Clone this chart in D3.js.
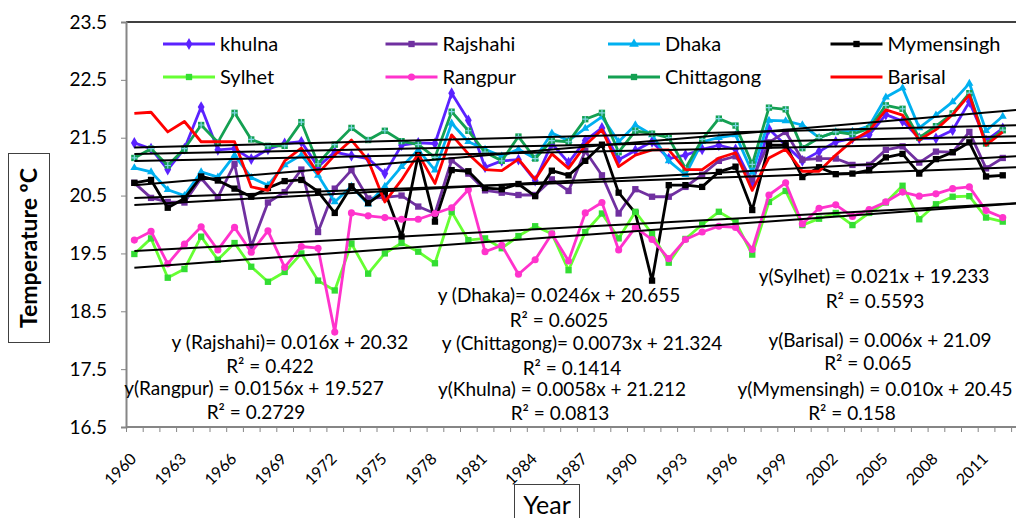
<!DOCTYPE html>
<html>
<head>
<meta charset="utf-8">
<script src="https://cdn.jsdelivr.net/npm/d3@7"></script>
<style>
  body { margin: 0; background: #fff; }
  svg { display: block; font-family: Lato, "Open Sans", sans-serif; }
</style>
</head>
<body>
<svg width="1016" height="518"></svg>
<script>
// yearly mean temperature (ºC), 1960-2012
var years = d3.range(1960, 2013);
var tickYears = d3.range(1960, 2013, 3);
var yTicks = [16.5, 17.5, 18.5, 19.5, 20.5, 21.5, 22.5, 23.5];

var khulna = [21.41,21.31,20.95,21.31,22.03,21.29,21.31,21.13,21.3,21.4,21.43,21.0,21.25,21.19,21.14,20.88,21.37,21.41,21.4,22.27,21.8,20.99,21.1,21.12,20.76,21.4,21.07,21.45,21.67,21.12,21.28,21.43,21.14,21.2,21.3,21.37,21.3,20.72,21.65,21.37,21.1,21.26,21.43,21.49,21.55,21.9,21.79,21.49,21.49,21.63,22.12,21.45,21.66];
var rajshahi = [20.72,20.46,20.39,20.38,20.8,20.47,21.05,19.62,20.38,20.56,20.95,19.87,20.62,20.94,20.45,20.47,20.5,20.31,20.19,21.11,20.88,20.59,20.55,20.51,20.51,20.78,20.58,21.27,20.85,20.19,20.61,20.48,20.48,20.65,20.86,21.1,21.18,20.78,21.42,21.6,21.12,21.14,21.14,21.03,21.03,21.29,21.35,21.07,21.26,21.25,21.6,20.97,21.15];
var dhaka = [20.98,20.91,20.6,20.5,20.91,20.82,21.2,20.81,20.68,21.03,21.2,20.85,20.39,20.66,20.35,20.66,21.0,21.29,20.94,21.75,21.43,21.3,21.18,21.3,21.14,21.58,21.45,21.66,21.86,21.43,21.72,21.55,21.1,20.86,21.43,21.5,21.55,20.9,21.8,21.79,21.72,21.5,21.6,21.61,21.7,22.2,22.36,21.67,21.89,22.12,22.44,21.62,21.87];
var mymensingh = [20.72,20.77,20.29,20.45,20.83,20.76,20.62,20.48,20.63,20.75,20.77,20.57,20.2,20.66,20.37,20.57,19.79,21.2,20.05,20.94,20.92,20.63,20.61,20.7,20.49,20.93,20.85,21.1,21.38,20.55,20.2,19.03,20.68,20.68,20.65,20.91,21.0,20.25,21.37,21.37,20.82,20.99,20.87,20.88,20.94,21.16,21.22,20.88,21.13,21.25,21.42,20.83,20.85];
var sylhet = [19.49,19.76,19.08,19.23,19.79,19.39,19.68,19.27,19.01,19.18,19.5,19.03,18.86,19.67,19.15,19.5,19.68,19.53,19.33,20.22,19.73,19.76,19.59,19.8,19.97,19.84,19.21,19.87,20.19,19.76,20.22,19.84,19.34,19.75,20.0,20.22,20.05,19.48,20.39,20.58,19.99,20.1,20.2,19.99,20.2,20.38,20.67,20.09,20.35,20.48,20.49,20.12,20.05];
var rangpur = [19.73,19.88,19.32,19.66,19.96,19.56,19.95,19.52,19.89,19.26,19.62,19.59,18.14,20.2,20.15,20.12,20.09,20.09,20.19,20.29,20.6,19.53,19.64,19.14,19.39,19.84,19.37,20.2,20.38,19.56,19.95,19.74,19.41,19.74,19.87,19.97,19.95,19.57,20.51,20.72,20.01,20.28,20.34,20.14,20.26,20.39,20.56,20.49,20.53,20.62,20.65,20.24,20.12];
var chittagong = [21.15,21.31,21.02,21.31,21.72,21.42,21.93,21.47,21.36,21.36,21.77,21.05,21.38,21.67,21.46,21.62,21.44,21.38,21.16,21.95,21.62,21.25,21.1,21.52,21.14,21.45,21.43,21.82,21.93,21.25,21.62,21.57,21.5,20.97,21.47,21.83,21.71,21.04,22.02,21.99,21.32,21.5,21.6,21.56,21.66,22.06,22.0,21.5,21.7,21.92,22.27,21.4,21.63];
var barisal = [21.92,21.94,21.6,21.78,21.43,21.43,21.43,20.65,20.59,21.1,21.32,20.88,21.2,21.46,21.11,20.39,20.77,21.22,20.71,21.55,21.22,20.95,20.93,21.13,20.78,21.22,20.97,21.37,21.64,21.0,21.2,21.29,21.29,20.95,20.95,21.15,21.24,20.59,21.15,21.3,20.92,20.92,21.2,21.45,21.62,21.98,21.89,21.46,21.64,21.9,22.24,21.37,21.6];

var names = ["khulna", "Rajshahi", "Dhaka", "Mymensingh", "Sylhet", "Rangpur", "Chittagong", "Barisal"];
var values = [khulna, rajshahi, dhaka, mymensingh, sylhet, rangpur, chittagong, barisal];
var colors = ["#5b22ff", "#7030a0", "#00b0f0", "#000000", "#66ff33", "#ff33cc", "#14a052", "#ff0000"];
var markerFill = ["#5b22ff", "#7030a0", "#00b0f0", "#000000", "#33dd33", "#ff33cc", "#14a052", "none"];
var shapes = [d3.symbolDiamond, d3.symbolSquare, d3.symbolTriangle, d3.symbolSquare, d3.symbolSquare, d3.symbolCircle, d3.symbolSquare, null];

// trend lines y = slope * x + intercept (x = 1 for 1960), as printed on the chart
var slopes = [0.0058, 0.016, 0.0246, 0.010, 0.021, 0.0156, 0.0073, 0.006];
var intercepts = [21.212, 20.32, 20.655, 20.45, 19.233, 19.527, 21.324, 21.09];
// equation, R², x of equation, x of R², baseline of equation, baseline of R²
var eqTexts = [
  ["y (Dhaka)= 0.0246x + 20.655", "R\u00b2 = 0.6025", 559, 559, 302, 327],
  ["y(Sylhet) = 0.021x + 19.233", "R\u00b2 = 0.5593", 874, 875, 283, 308],
  ["y (Rajshahi)= 0.016x + 20.32", "R\u00b2 = 0.422", 290, 270, 349, 373],
  ["y (Chittagong)= 0.0073x + 21.324", "R\u00b2 = 0.1414", 582, 572, 350, 375],
  ["y(Barisal) = 0.006x + 21.09", "R\u00b2 = 0.065", 880, 868, 347, 370],
  ["y(Rangpur) = 0.0156x + 19.527", "R\u00b2 = 0.2729", 254, 256, 395, 419],
  ["y(Khulna) = 0.0058x + 21.212", "R\u00b2 = 0.0813", 562, 560, 396, 420],
  ["y(Mymensingh) = 0.010x + 20.45", "R\u00b2 = 0.158", 875, 852, 396, 420]
];

var svg = d3.select("svg"),
    plotLeft = 126, plotTop = 22, plotBottom = 427, step = 16.7;

var x = d3.scaleBand().domain(years).range([plotLeft, plotLeft + step * years.length]);
var xi = d3.scaleLinear().domain([0, years.length]).range([plotLeft, plotLeft + step * years.length]);
var y = d3.scaleLinear().domain([16.5, 23.5]).range([plotBottom, plotTop]);

// top border of plot area
svg.append("line")
    .attr("x1", plotLeft).attr("x2", 1016)
    .attr("y1", plotTop).attr("y2", plotTop)
    .style("stroke", "#000").style("stroke-width", 1.5);

// y axis
var yAxis = svg.append("g")
    .attr("transform", "translate(" + plotLeft + ",0)")
    .call(d3.axisLeft(y).tickValues(yTicks).tickSize(5).tickFormat(d3.format(".1f")));
yAxis.select(".domain").style("stroke", "#868686").style("stroke-width", 2);
yAxis.selectAll(".tick line").style("stroke", "#868686");
yAxis.selectAll("text").style("font-size", "19px").attr("x", -19).style("fill", "#000")
    .style("font-family", "Lato, sans-serif");

// x axis: tick marks between categories
var xAxis = svg.append("g")
    .attr("transform", "translate(0," + plotBottom + ")")
    .call(d3.axisBottom(xi).tickValues(d3.range(0, years.length + 1)).tickSize(5).tickFormat(""));
xAxis.select(".domain").remove();
xAxis.selectAll(".tick line").style("stroke", "#868686");
xAxis.append("line").attr("x1", plotLeft).attr("x2", 1016)
    .style("stroke", "#868686").style("stroke-width", 2);

svg.append("g").selectAll("text")
    .data(tickYears)
    .enter().append("text")
    .attr("transform", function(d) { return "translate(" + (x(d) + x.bandwidth() / 2 - 1) + "," + (plotBottom + 29) + ") rotate(-45)"; })
    .attr("text-anchor", "end")
    .attr("dy", "0.35em")
    .style("font-size", "16px")
    .text(function(d) { return d; });

// series
var line = d3.line()
    .x(function(d, i) { return x(years[i]) + x.bandwidth() / 2; })
    .y(function(d) { return y(d); });

values.forEach(function(vals, s) {
  var g = svg.append("g");
  g.append("path")
      .datum(vals)
      .attr("d", line)
      .style("fill", "none")
      .style("stroke", colors[s])
      .style("stroke-width", 2.8)
      .style("stroke-linejoin", "round");
  if (shapes[s]) {
    g.selectAll("path.m")
        .data(vals)
        .enter().append("path")
        .attr("class", "m")
        .attr("transform", function(d, i) { return "translate(" + (x(years[i]) + x.bandwidth() / 2) + "," + y(d) + ")"; })
        .attr("d", d3.symbol().type(shapes[s]).size(s == 2 ? 28 : 40))
        .style("fill", markerFill[s]);
    if (s == 6) {
      g.selectAll("path.c")
          .data(vals)
          .enter().append("path")
          .attr("class", "c")
          .attr("transform", function(d, i) { return "translate(" + (x(years[i]) + x.bandwidth() / 2) + "," + y(d) + ")"; })
          .attr("d", "M-3,0H3M0,-3V3")
          .style("stroke", "#7fd6e6").style("stroke-width", 1.2);
    }
  }
});

// linear trend lines
slopes.forEach(function(m, s) {
  var x1 = 1, x2 = 53.8;
  svg.append("line")
      .attr("x1", xi(x1 - 0.5)).attr("x2", xi(x2 - 0.5))
      .attr("y1", y(m * x1 + intercepts[s])).attr("y2", y(m * x2 + intercepts[s]))
      .style("stroke", "#000").style("stroke-width", 2);
});

// legend
var legend = svg.append("g").selectAll("g")
    .data(names)
    .enter().append("g")
    .attr("transform", function(d, i) { return "translate(" + (163 + (i % 4) * 222.5) + "," + (i < 4 ? 44 : 77) + ")"; });
legend.append("line")
    .attr("x1", 0).attr("x2", 52)
    .style("stroke", function(d, i) { return colors[i]; })
    .style("stroke-width", 2.8);
legend.append("path")
    .attr("transform", "translate(26,0)")
    .attr("d", function(d, i) { return shapes[i] ? d3.symbol().type(shapes[i]).size(40)() : ""; })
    .style("fill", function(d, i) { return markerFill[i]; });
legend.append("text")
    .attr("x", 57)
    .attr("dy", "0.35em")
    .style("font-size", "20px")
    .text(function(d) { return d; });

// trend line equations
eqTexts.forEach(function(t) {
  svg.append("text").attr("x", t[2]).attr("y", t[4])
      .attr("text-anchor", "middle").style("font-size", "19px").text(t[0]);
  svg.append("text").attr("x", t[3]).attr("y", t[5])
      .attr("text-anchor", "middle").style("font-size", "19px").text(t[1]);
});

// axis titles
svg.append("rect").attr("x", 8.5).attr("y", 153.5).attr("width", 41).attr("height", 189)
    .style("fill", "#fff").style("stroke", "#404040");
svg.append("text")
    .attr("transform", "translate(37,248) rotate(-90)")
    .attr("text-anchor", "middle")
    .style("font-size", "23px").style("font-weight", "bold")
    .text("Temperature \u00baC");

svg.append("rect").attr("x", 514.5).attr("y", 484.5).attr("width", 65).attr("height", 40)
    .style("fill", "#fff").style("stroke", "#404040");
svg.append("text")
    .attr("x", 547).attr("y", 514)
    .attr("text-anchor", "middle")
    .style("font-size", "25px")
    .text("Year");
</script>
</body>
</html>
